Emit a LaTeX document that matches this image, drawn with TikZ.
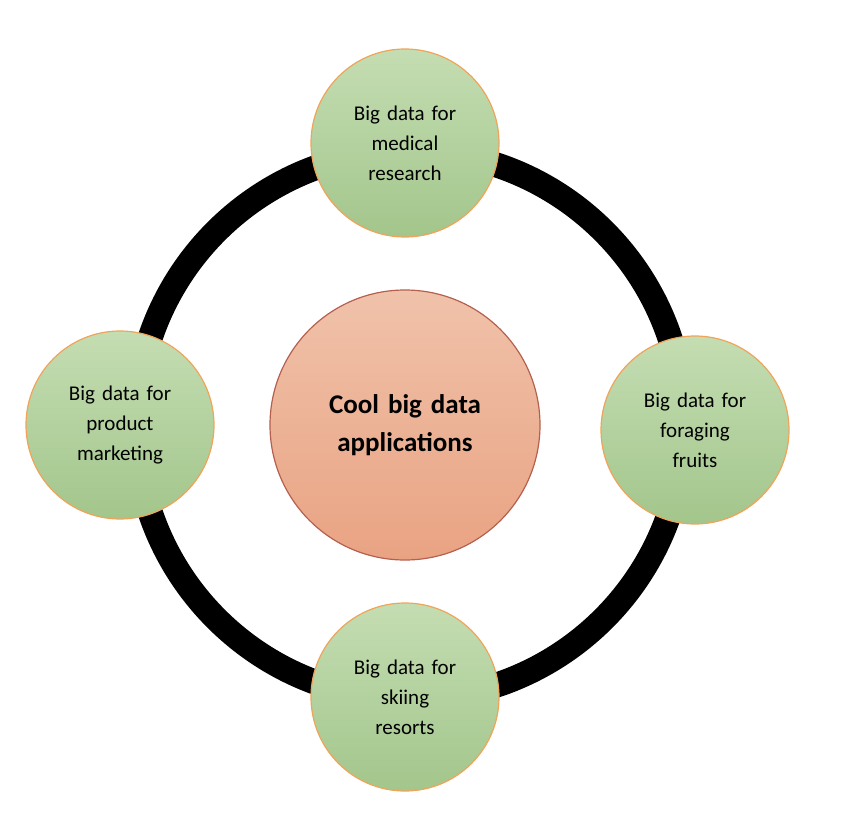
\documentclass[tikz,border=0pt]{standalone}
\usepackage{fontspec}
\setmainfont{Carlito}
\definecolor{leafT}{HTML}{C4DDB2}
\definecolor{leafB}{HTML}{A3C68C}
\definecolor{leafE}{HTML}{F0A45A}
\definecolor{hubT}{HTML}{F0C2AA}
\definecolor{hubB}{HTML}{E9A383}
\definecolor{hubE}{HTML}{B5604E}
\begin{document}
\begin{tikzpicture}[x=1pt,y=-1pt,
    leaf/.style={circle, draw=leafE, line width=1.2pt, top color=leafT, bottom color=leafB,
        minimum size=188pt, inner sep=0pt, align=center, text width=160pt,
        font=\fontsize{21}{30}\selectfont},
    hub/.style={circle, draw=hubE, line width=1.2pt, top color=hubT, bottom color=hubB,
        minimum size=270pt, inner sep=0pt, align=center, text width=220pt,
        font=\fontsize{27}{38}\selectfont\bfseries}]

    \useasboundingbox (0,0) rectangle (854,824);

    % ring
    \coordinate (ring) at (410,425);
    \draw [line width=25pt] (ring) circle (274pt);

    \node [hub] (cool) at (405,425) {Cool big data\\applications};

    \node [leaf] (med)  at (405,143) {Big data for\\medical\\research};
    \node [leaf] (prod) at (120,425) {Big data for\\product\\marketing};
    \node [leaf] (fruit) at (695,430) {Big data for\\foraging\\fruits};
    \node [leaf] (ski)  at (405,697) {Big data for\\skiing\\resorts};

\end{tikzpicture}
\end{document}
